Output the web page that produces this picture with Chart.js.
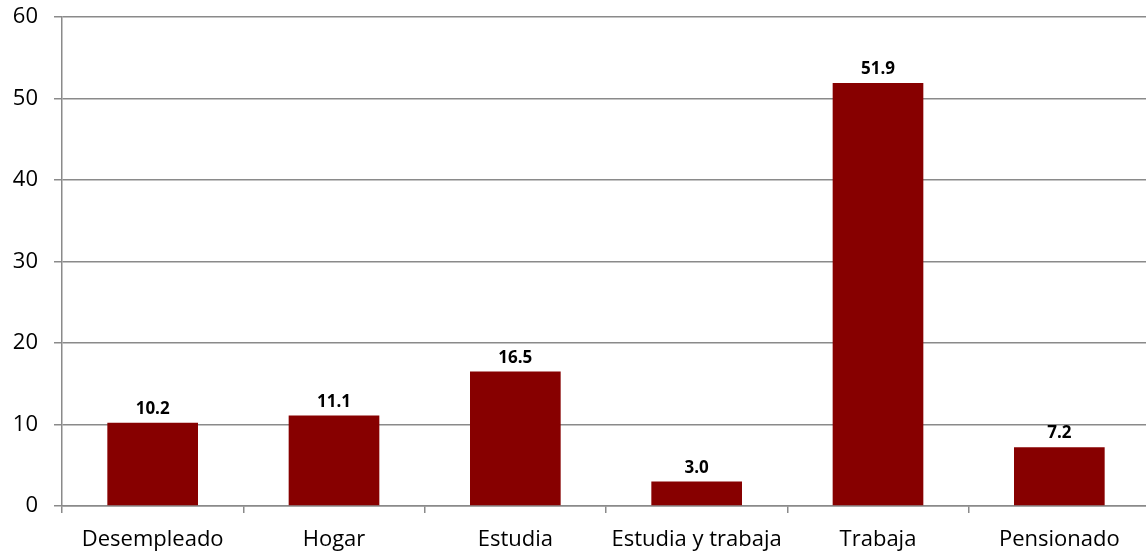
<!DOCTYPE html>
<html>
<head>
<meta charset="utf-8">
<script src="https://cdn.jsdelivr.net/npm/chart.js@4.4.0/dist/chart.umd.min.js"></script>
<style>
  html, body { margin: 0; padding: 0; background: #fff; overflow: hidden; }
  #wrap { width: 1150px; height: 557px; }
</style>
</head>
<body>
<div id="wrap"><canvas id="chart"></canvas></div>
<script>
const categories = ['Desempleado', 'Hogar', 'Estudia', 'Estudia y trabaja', 'Trabaja', 'Pensionado'];
const values = [10.2, 11.1, 16.5, 3.0, 51.9, 7.2];
const yTicks = [0, 10, 20, 30, 40, 50, 60];

const gridGray = '#8a8a8a';
const barColor = '#870000';

// draws the value above each bar
const valueLabels = {
    id: 'valueLabels',
    afterDatasetsDraw(chart) {
        const ctx = chart.ctx;
        const meta = chart.getDatasetMeta(0);
        ctx.save();
        ctx.font = 'bold 17px "Open Sans"';
        ctx.fillStyle = '#000';
        ctx.textAlign = 'center';
        ctx.textBaseline = 'alphabetic';
        meta.data.forEach((bar, i) => {
            ctx.fillText(values[i].toFixed(1), bar.x, bar.y - 9);
        });
        ctx.restore();
    }
};

const ctx = document.getElementById('chart').getContext('2d');
new Chart(ctx, {
    type: 'bar',
    data: {
        labels: categories,
        datasets: [{
            data: values,
            backgroundColor: barColor,
            borderWidth: 0,
            barPercentage: 0.5,
            categoryPercentage: 1.0
        }]
    },
    options: {
        responsive: true,
        maintainAspectRatio: false,
        animation: false,
        layout: { padding: { top: 17, left: 0, right: 0, bottom: 0 } },
        plugins: {
            legend: { display: false },
            tooltip: { enabled: false }
        },
        scales: {
            x: {
                offset: true,
                grid: {
                    offset: true,
                    drawOnChartArea: false,
                    drawTicks: true,
                    tickLength: 7,
                    color: gridGray,
                    lineWidth: 1.5
                },
                border: { color: gridGray, width: 1.5 },
                ticks: {
                    color: '#000',
                    font: { family: '"Open Sans"', size: 22 },
                    padding: 14,
                    maxRotation: 0,
                    autoSkip: false
                },
                afterFit(scale) { scale.height = 51; }
            },
            y: {
                min: 0,
                max: 60,
                afterBuildTicks(scale) { scale.ticks = yTicks.map(v => ({ value: v })); },
                grid: {
                    color: gridGray,
                    lineWidth: 1.5,
                    tickLength: 8
                },
                border: { color: gridGray, width: 1.5 },
                ticks: {
                    color: '#000',
                    font: { family: '"Open Sans"', size: 22 },
                    padding: 16
                },
                afterFit(scale) {
                    scale.width = 62;
                    scale.paddingTop = 0;
                    scale.paddingBottom = 0;
                }
            }
        }
    },
    plugins: [valueLabels]
});
</script>
</body>
</html>
